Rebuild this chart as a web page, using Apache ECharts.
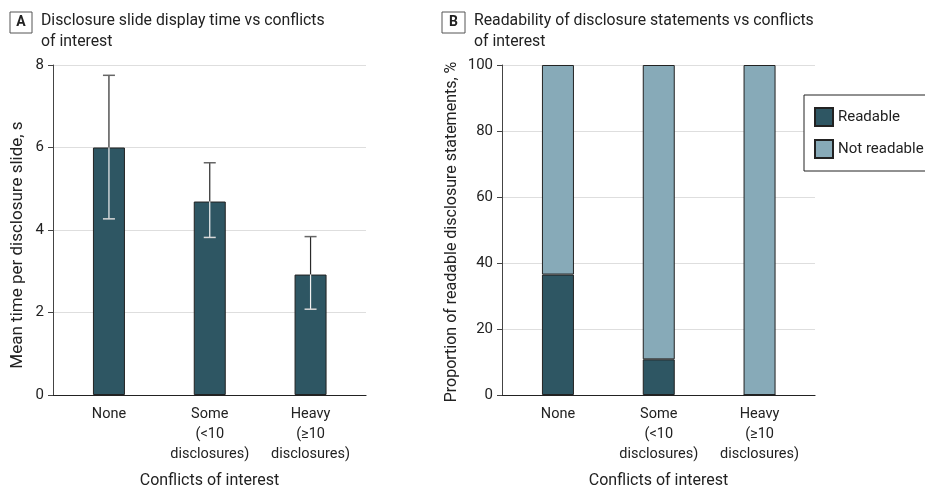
<!DOCTYPE html>
<html>
<head>
<meta charset="utf-8">
<script src="https://cdn.jsdelivr.net/npm/echarts@6/dist/echarts.min.js"></script>
<style>
html,body{margin:0;padding:0;background:#fff;}
#c{width:925px;height:489px;}
</style>
</head>
<body>
<div id="c"></div>
<script>
// ---- data ----
const categories = ['None', 'Some\n(<10\ndisclosures)', 'Heavy\n(≥10\ndisclosures)'];
const meanTime = [6.0, 4.69, 2.92];
const errLow = [4.27, 3.82, 2.08];
const errHigh = [7.75, 5.63, 3.84];
const readable = [36.5, 10.8, 0];
const notReadable = [63.5, 89.2, 100];
const ticksA = [0, 2, 4, 6, 8];
const ticksB = [0, 20, 40, 60, 80, 100];

const FONT = 'Roboto';
const DARK = '#2e5663';
const LIGHT = '#87aab8';
const EDGE = '#222';
const TXT = '#222';

const chart = echarts.init(document.getElementById('c'), null, {renderer: 'canvas'});

function xAxisCfg(gridIndex) {
  return {
    type: 'value', gridIndex: gridIndex, min: -0.555, max: 2.55,
    splitLine: {show: false},
    axisLine: {show: true, onZero: false, lineStyle: {color: '#222', width: 1.2}},
    axisTick: {show: false},
    axisLabel: {
      customValues: [0, 1, 2],
      formatter: v => categories[Math.round(v)],
      color: TXT, fontFamily: FONT, fontSize: 14.5, lineHeight: 20, margin: 9
    },
    name: 'Conflicts of interest', nameLocation: 'middle', nameGap: 78,
    nameTextStyle: {color: TXT, fontFamily: FONT, fontSize: 16}
  };
}
function yAxisCfg(gridIndex, ticks) {
  return {
    type: 'value', gridIndex: gridIndex, min: ticks[0], max: ticks[ticks.length - 1],
    interval: ticks[1] - ticks[0],
    axisLine: {show: true, onZero: false, lineStyle: {color: '#444', width: 1}},
    axisTick: {show: true, length: 5, lineStyle: {color: '#444'}},
    axisLabel: {color: TXT, fontFamily: FONT, fontSize: 15, margin: 9},
    splitLine: {show: true, lineStyle: {color: '#dedede', width: 1.2}}
  };
}

const errData = categories.map((c, i) => [i, errLow[i], errHigh[i], meanTime[i]]);

function renderErr(params, api) {
  const x = api.value(0);
  const lo = api.coord([x, api.value(1)]);
  const hi = api.coord([x, api.value(2)]);
  const mid = api.coord([x, api.value(3)]);
  const cap = 6;
  return {
    type: 'group',
    children: [
      {type: 'line', shape: {x1: mid[0], y1: mid[1], x2: hi[0], y2: hi[1]}, style: {stroke: '#2a2a2a', lineWidth: 1.2}},
      {type: 'line', shape: {x1: hi[0] - cap, y1: hi[1], x2: hi[0] + cap, y2: hi[1]}, style: {stroke: '#666', lineWidth: 1.5}},
      {type: 'line', shape: {x1: mid[0], y1: mid[1], x2: lo[0], y2: lo[1]}, style: {stroke: '#f2f2f2', lineWidth: 1.2}},
      {type: 'line', shape: {x1: lo[0] - cap, y1: lo[1], x2: lo[0] + cap, y2: lo[1]}, style: {stroke: '#d8d8d8', lineWidth: 1.5}}
    ]
  };
}

const option = {
  animation: false,
  backgroundColor: '#fff',
  textStyle: {fontFamily: FONT},
  grid: [
    {left: 53, top: 65, width: 313, height: 330, outerBoundsMode: 'none', containLabel: false},
    {left: 502, top: 65, width: 313, height: 330, outerBoundsMode: 'none', containLabel: false}
  ],
  xAxis: [xAxisCfg(0), xAxisCfg(1)],
  yAxis: [yAxisCfg(0, ticksA), yAxisCfg(1, ticksB)],
  legend: {
    left: 804, top: 95, orient: 'vertical', icon: 'rect',
    padding: [12, 10, 12, 10], itemGap: 12, itemWidth: 18, itemHeight: 18,
    borderColor: '#222', borderWidth: 1, backgroundColor: '#fff',
    textStyle: {color: TXT, fontFamily: FONT, fontSize: 15},
    data: ['Readable', 'Not readable']
  },
  series: [
    {
      name: 'Mean time', type: 'bar', xAxisIndex: 0, yAxisIndex: 0, barWidth: 32,
      data: meanTime.map((v, i) => [i, v]),
      itemStyle: {color: DARK, borderColor: EDGE, borderWidth: 1}
    },
    {
      name: 'CI', type: 'custom', xAxisIndex: 0, yAxisIndex: 0,
      renderItem: renderErr, data: errData, z: 5
    },
    {
      name: 'Readable', type: 'bar', xAxisIndex: 1, yAxisIndex: 1, barWidth: 32, stack: 'b',
      data: readable.map((v, i) => [v, i]), encode: {x: 1, y: 0},
      itemStyle: {color: DARK, borderColor: EDGE, borderWidth: 1}
    },
    {
      name: 'Not readable', type: 'bar', xAxisIndex: 1, yAxisIndex: 1, barWidth: 32, stack: 'b',
      data: notReadable.map((v, i) => [v, i]), encode: {x: 1, y: 0},
      itemStyle: {color: LIGHT, borderColor: EDGE, borderWidth: 1}
    }
  ],
  graphic: [
    {type: 'rect', shape: {x: 10, y: 12, width: 22, height: 21}, style: {fill: '#fff', stroke: '#555', lineWidth: 1}},
    {type: 'text', x: 21, y: 22.5, style: {text: 'A', font: 'bold 14px ' + FONT, fill: TXT, textAlign: 'center', textVerticalAlign: 'middle'}},
    {type: 'text', x: 41, y: 11, style: {text: 'Disclosure slide display time vs conflicts\nof interest', font: '15.8px ' + FONT, lineHeight: 21, fill: TXT}},
    {type: 'rect', shape: {x: 442, y: 12, width: 23, height: 21}, style: {fill: '#fff', stroke: '#555', lineWidth: 1}},
    {type: 'text', x: 453.5, y: 22.5, style: {text: 'B', font: 'bold 14px ' + FONT, fill: TXT, textAlign: 'center', textVerticalAlign: 'middle'}},
    {type: 'text', x: 474, y: 11, style: {text: 'Readability of disclosure statements vs conflicts\nof interest', font: '15.8px ' + FONT, lineHeight: 21, fill: TXT}},
    {type: 'text', x: 18, y: 245, rotation: Math.PI / 2, style: {text: 'Mean time per disclosure slide, s', font: '17px ' + FONT, fill: TXT, textAlign: 'center', textVerticalAlign: 'middle'}},
    {type: 'text', x: 452, y: 232, rotation: Math.PI / 2, style: {text: 'Proportion of readable disclosure statements, %', font: '16px ' + FONT, fill: TXT, textAlign: 'center', textVerticalAlign: 'middle'}}
  ]
};
chart.setOption(option);
</script>
</body>
</html>
